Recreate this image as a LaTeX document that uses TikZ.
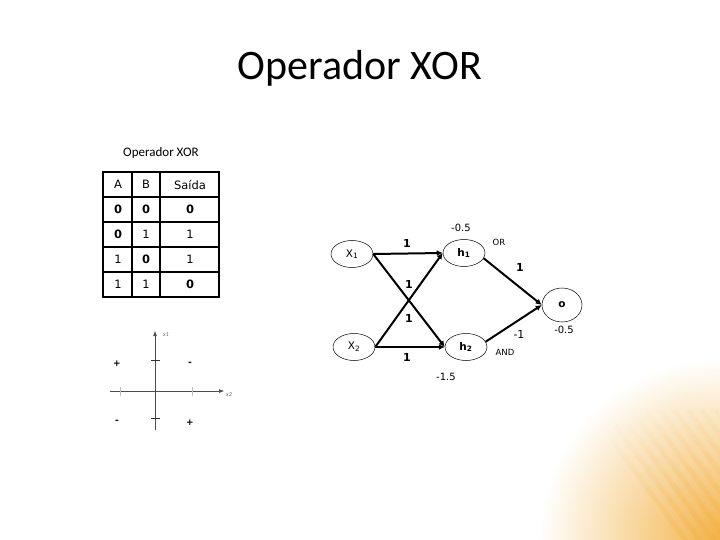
\documentclass[tikz,border=0pt]{standalone}
\usepackage{fontspec}
\setmainfont{Carlito}
\newfontfamily\netfont{DejaVu Sans}
\usetikzlibrary{shapes.geometric,arrows.meta,fadings}
\definecolor{deco}{RGB}{242,170,50}
\tikzfading[name=cornerfade, inner color=transparent!10, outer color=transparent!100]
\begin{document}
\begin{tikzpicture}[x=1pt,y=-1pt,
  cell/.style={font=\netfont\fontsize{11.5}{13}\selectfont},
  tline/.style={line width=1.1pt},
  neuron/.style={draw,ellipse,line width=0.5pt,minimum width=42pt,minimum height=27pt,inner sep=0pt,font=\netfont\fontsize{10.5}{12}\selectfont},
  conn/.style={line width=2pt,-{Latex[length=6pt,width=6pt]}},
  wlab/.style={font=\netfont\bfseries\fontsize{11}{12}\selectfont,inner sep=1pt},
  blab/.style={font=\netfont\fontsize{10}{11}\selectfont,inner sep=1pt},
  axis/.style={draw=black!70,line width=0.6pt},
  sign/.style={font=\netfont\bfseries\fontsize{9}{10}\selectfont,inner sep=0pt}
]
\useasboundingbox (0,0) rectangle (720,540);
\fill[white] (0,0) rectangle (720,540);
% corner decoration
\begin{scope}
\clip (530,350) rectangle (720,540);
\fill[deco,path fading=cornerfade] (720,540) circle (180);
\foreach \d in {0,14,...,140}{
  \foreach \t in {0,0.1,...,0.9}{
    \pgfmathsetmacro{\xa}{590+\d+\t*110}
    \pgfmathsetmacro{\ya}{410+\t*150}
    \pgfmathsetmacro{\xb}{590+\d+(\t+0.1)*110}
    \pgfmathsetmacro{\yb}{410+(\t+0.1)*150}
    \pgfmathsetmacro{\dist}{10*sqrt(((720-\xa)/10)^2+((540-\ya)/10)^2)}
    \pgfmathsetmacro{\op}{max(0,0.25*(1-\dist/165))}
    \draw[deco,line width=5pt,opacity=\op] (\xa,\ya) -- (\xb,\yb);
  }
}
\end{scope}

% title
\node (title) at (360,68) {\fontsize{42}{48}\selectfont Operador XOR};

% table
\node (cap) at (161,153) {\fontsize{13}{15}\selectfont Operador XOR};
\draw[tline] (103,172) rectangle (219,297);
\foreach \y in {197,222,247,272} \draw[tline] (103,\y) -- (219,\y);
\draw[tline] (132,172) -- (132,297);
\draw[tline] (160,172) -- (160,297);
\node[cell] (hA) at (118,184.5) {A};
\node[cell] (hB) at (146,184.5) {B};
\node[cell] (hS) at (190,184.5) {Saída};
\node[cell] (a1) at (118,209.5) {\bfseries 0};
\node[cell] (b1) at (146,209.5) {\bfseries 0};
\node[cell] (s1) at (190,209.5) {\bfseries 0};
\node[cell] (a2) at (118,234.5) {\bfseries 0};
\node[cell] (b2) at (146,234.5) {1};
\node[cell] (s2) at (190,234.5) {1};
\node[cell] (a3) at (118,259.5) {1};
\node[cell] (b3) at (146,259.5) {\bfseries 0};
\node[cell] (s3) at (190,259.5) {1};
\node[cell] (a4) at (118,284.5) {1};
\node[cell] (b4) at (146,284.5) {1};
\node[cell] (s4) at (190,284.5) {\bfseries 0};

% XOR plot
\coordinate (vbot) at (155,430);
\coordinate (vtop) at (155,331);
\coordinate (hl) at (110,391);
\coordinate (hr) at (224,391);
\draw[axis,-{Latex[length=5pt,width=4pt]}] (vbot) -- (vtop);
\draw[axis,-{Latex[length=5pt,width=4pt]}] (hl) -- (hr);
\draw[black!80,line width=0.6pt] (151,360) -- (160,360);
\draw[black!80,line width=0.6pt] (151,418) -- (160,418);
\draw[black!25,line width=0.6pt] (120,387) -- (120,396);
\draw[black!25,line width=0.6pt] (192,387) -- (192,396);
\node[font=\itshape\fontsize{6}{7}\selectfont,text=black!60,inner sep=0pt] (lx1) at (166,335) {x1};
\node[font=\itshape\fontsize{6}{7}\selectfont,text=black!60,inner sep=0pt] (lx2) at (229,395) {x2};
\node[sign] (p1) at (117,364) {+};
\node[sign] (m1) at (190,364) {-};
\node[sign] (m2) at (117,422) {-};
\node[sign] (p2) at (190,423) {+};

% network
\node[neuron] (x1) at (352,254) {X\textsubscript{1}};
\node[neuron] (x2) at (354,347) {X\textsubscript{2}};
\node[neuron,font=\netfont\bfseries\fontsize{10.5}{12}\selectfont] (h1) at (464,253) {h\textsubscript{1}};
\node[neuron,font=\netfont\bfseries\fontsize{10.5}{12}\selectfont] (h2) at (466,347) {h\textsubscript{2}};
\node[neuron,minimum width=40pt,minimum height=34pt,font=\netfont\bfseries\fontsize{10.5}{12}\selectfont] (o) at (562,305) {o};

\draw[conn] (x1.east) -- (h1.west);
\draw[conn] (x1.east) -- (h2.west);
\draw[conn] (x2.east) -- (h1.west);
\draw[conn] (x2.east) -- (h2.west);
\draw[conn] (h1.-15) -- (o.west);
\draw[conn] (h2.15) -- (o.west);

\node[wlab] (w11) at (407,243) {1};
\node[wlab] (w12) at (409,284) {1};
\node[wlab] (w21) at (409,318) {1};
\node[wlab] (w22) at (407,357) {1};
\node[wlab] (w1o) at (520,267) {1};
\node[wlab,font=\netfont\fontsize{11}{12}\selectfont] (w2o) at (519,334) {-1};
\node[blab] (bh1) at (461,228) {-0.5};
\node[blab] (bh2) at (446,377) {-1.5};
\node[blab] (bo) at (564,330) {-0.5};
\node[blab,font=\netfont\fontsize{8.5}{10}\selectfont] (lor) at (499,242) {OR};
\node[blab,font=\netfont\fontsize{8.5}{10}\selectfont] (land) at (505,352) {AND};
\end{tikzpicture}
\end{document}
